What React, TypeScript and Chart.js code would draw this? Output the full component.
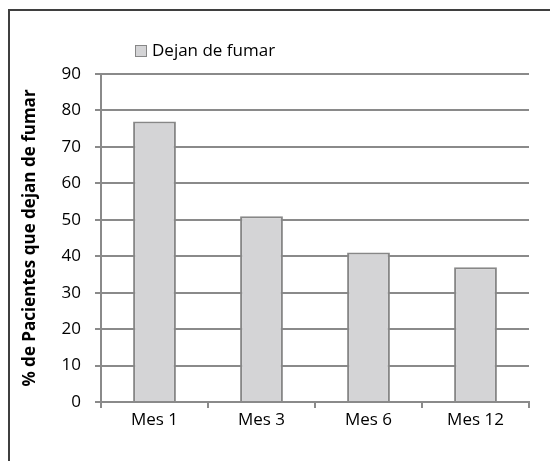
import React, { useEffect, useRef } from 'react';
import { Chart, registerables } from 'chart.js';

Chart.register(...registerables);

const categories = ['Mes 1', 'Mes 3', 'Mes 6', 'Mes 12'];
const seriesLabel = 'Dejan de fumar';
const values = [77, 51, 41, 37];
const yTitle = '% de Pacientes que dejan de fumar';
const yMin = 0;
const yMax = 90;
const yStep = 10;

const FONT = '"Open Sans", Lato, sans-serif';
const GRID = '#8a8a8a';

const framePlugin = {
  id: 'frame',
  beforeDraw(chart: any) {
    const ctx = chart.ctx;
    ctx.save();
    ctx.fillStyle = '#ffffff';
    ctx.fillRect(0, 0, chart.width, chart.height);
    ctx.strokeStyle = '#3f3f3f';
    ctx.lineWidth = 2;
    ctx.beginPath();
    ctx.moveTo(9, chart.height);
    ctx.lineTo(9, 10);
    ctx.lineTo(chart.width, 10);
    ctx.stroke();
    ctx.restore();
  },
};

const legendPlugin = {
  id: 'manualLegend',
  afterDraw(chart: any) {
    const ctx = chart.ctx;
    const ds = chart.data.datasets[0];
    const x = chart.chartArea.left + 34;
    const y = 51;
    ctx.save();
    ctx.fillStyle = ds.backgroundColor;
    ctx.fillRect(x, y - 6, 12, 12);
    ctx.strokeStyle = ds.borderColor;
    ctx.lineWidth = 1;
    ctx.strokeRect(x + 0.5, y - 5.5, 11, 11);
    ctx.fillStyle = '#000000';
    ctx.font = '17px ' + FONT;
    ctx.textBaseline = 'middle';
    ctx.textAlign = 'left';
    ctx.fillText(ds.label, x + 17, y);
    ctx.restore();
  },
};

export default function App() {
  const ref = useRef<HTMLCanvasElement>(null);
  useEffect(() => {
    document.body.style.margin = '0';
    const chart = new Chart(ref.current!, {
      type: 'bar',
      data: {
        labels: categories,
        datasets: [
          {
            label: seriesLabel,
            data: values,
            backgroundColor: '#d4d4d6',
            borderColor: '#878787',
            borderWidth: 2,
            categoryPercentage: 1,
            barPercentage: 0.4,
          },
        ],
      },
      options: {
        responsive: false,
        animation: false,
        layout: { padding: { left: 0, right: 21, top: 74, bottom: 0 } },
        plugins: {
          legend: { display: false },
          tooltip: { enabled: false },
        },
        scales: {
          x: {
            grid: {
              display: true,
              drawOnChartArea: false,
              drawTicks: true,
              tickLength: 6,
              color: GRID,
              lineWidth: 2,
            },
            border: { display: true, color: GRID, width: 2 },
            ticks: {
              color: '#000000',
              font: { family: FONT, size: 17 },
              padding: 2,
              maxRotation: 0,
            },
            afterFit(scale: any) {
              scale.height = 59;
            },
          },
          y: {
            min: yMin,
            max: yMax,
            grid: {
              color: GRID,
              lineWidth: 2,
              drawTicks: true,
              tickLength: 6,
            },
            border: { display: true, color: GRID, width: 2 },
            ticks: {
              stepSize: yStep,
              color: '#000000',
              font: { family: FONT, size: 17 },
              padding: 14,
            },
            title: {
              display: true,
              text: yTitle,
              color: '#000000',
              font: { family: FONT, size: 17, weight: 'bold' },
              padding: { top: 20, bottom: 0 },
            },
            afterFit(scale: any) {
              scale.width = 101;
            },
          },
        },
      },
      plugins: [framePlugin, legendPlugin],
    });
    return () => chart.destroy();
  }, []);
  return (
    <div style={{ position: 'relative', width: 550, height: 461, background: '#fff' }}>
      <canvas ref={ref} width={550} height={461} style={{ display: 'block' }} />
    </div>
  );
}
